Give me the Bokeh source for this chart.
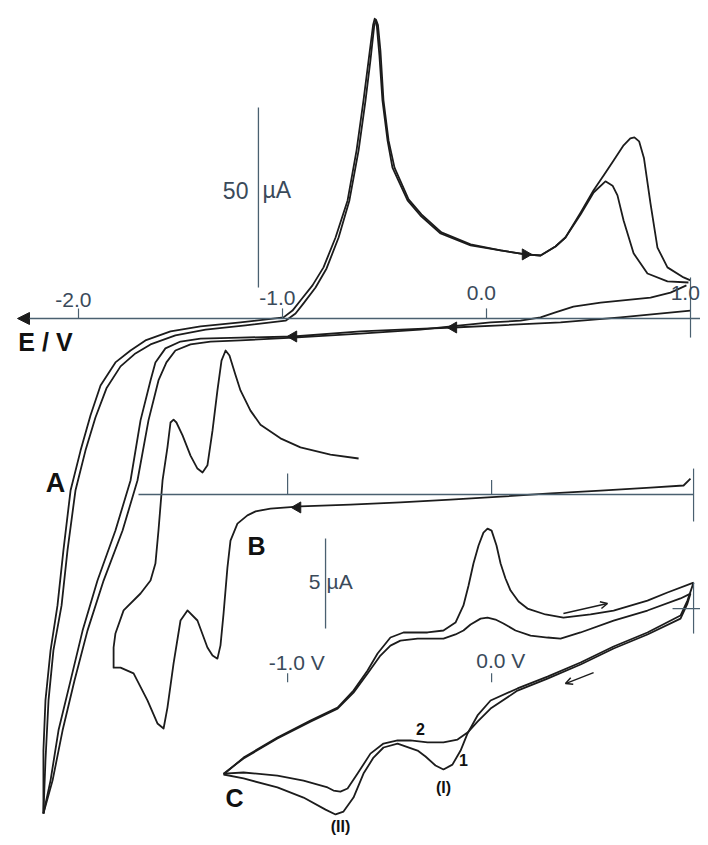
from bokeh.plotting import figure
from bokeh.models import Range1d, Arrow, NormalHead, OpenHead
from bokeh.core.properties import value
from bokeh.embed import file_html
from bokeh.resources import INLINE
import math

# ---------------- data: (potential / V, current / uA) ----------------
# Panel A (two cycles)
A1_cathodic = [(1.000, 2.2), (0.657, 0.3), (0.363, -1.1), (0.069, -1.9), (-0.162, -2.5), (-0.422, -3.1),
               (-0.618, -3.6), (-0.946, -5.0), (-1.206, -5.3), (-1.402, -5.6), (-1.500, -6.4), (-1.574, -8.3),
               (-1.623, -12.2), (-1.647, -17.2), (-1.696, -28.3), (-1.745, -45.0), (-1.819, -58.9),
               (-1.907, -72.8), (-1.980, -86.7), (-2.039, -100.6), (-2.098, -114.4), (-2.137, -128.3),
               (-2.172, -137.5)]
A1_anodic = [(-2.172, -137.5), (-2.172, -120.0), (-2.162, -106.1), (-2.137, -92.2), (-2.103, -79.7),
             (-2.074, -64.4), (-2.039, -47.8), (-1.990, -36.7), (-1.941, -26.9), (-1.892, -18.6),
             (-1.819, -12.2), (-1.745, -8.9), (-1.672, -6.1), (-1.549, -3.6), (-1.402, -2.2), (-1.206, -1.1),
             (-0.995, 0.3), (-0.951, 2.2), (-0.912, 5.0), (-0.853, 9.2), (-0.799, 14.2), (-0.740, 22.5),
             (-0.681, 32.8), (-0.637, 46.7), (-0.603, 60.6), (-0.578, 71.7), (-0.556, 81.5), (-0.548, 83.3),
             (-0.539, 82.2), (-0.525, 73.1), (-0.510, 60.6), (-0.485, 49.4), (-0.461, 41.9), (-0.387, 32.8),
             (-0.324, 28.6), (-0.225, 23.6), (-0.078, 20.3), (0.069, 18.9), (0.191, 17.8), (0.265, 17.5),
             (0.338, 20.0), (0.387, 22.5), (0.461, 28.9), (0.525, 35.0), (0.583, 38.1), (0.618, 36.9),
             (0.642, 34.2), (0.672, 27.2), (0.721, 18.1), (0.789, 12.5), (0.887, 10.3), (0.990, 10.0)]
A2_cathodic = [(0.980, 9.2), (0.902, 7.2), (0.804, 5.8), (0.559, 4.4), (0.426, 3.3), (0.338, 1.7), (0.265, 0.3),
               (0.167, -0.6), (0.020, -1.1), (-0.127, -1.9), (-0.324, -3.1), (-0.618, -4.2), (-0.946, -5.3),
               (-1.206, -6.1), (-1.353, -6.4), (-1.451, -7.2), (-1.525, -8.9), (-1.569, -12.2),
               (-1.608, -17.2), (-1.657, -28.3), (-1.711, -45.0), (-1.784, -58.9), (-1.877, -72.8),
               (-1.956, -86.7), (-2.020, -100.6), (-2.078, -114.4), (-2.127, -128.3), (-2.172, -137.5)]
A2_anodic = [(-2.172, -137.5), (-2.162, -122.8), (-2.147, -106.1), (-2.123, -92.2), (-2.083, -79.7),
             (-2.054, -64.4), (-2.015, -47.8), (-1.966, -36.7), (-1.917, -27.5), (-1.863, -19.4),
             (-1.794, -13.3), (-1.721, -9.7), (-1.647, -7.2), (-1.525, -4.7), (-1.377, -3.1), (-1.181, -1.9),
             (-0.985, -0.6), (-0.936, 1.4), (-0.897, 4.2), (-0.838, 8.6), (-0.784, 13.9), (-0.725, 22.5),
             (-0.672, 32.8), (-0.627, 46.7), (-0.593, 60.6), (-0.569, 71.7), (-0.551, 81.0), (-0.542, 83.0),
             (-0.532, 81.5), (-0.520, 74.4), (-0.505, 60.6), (-0.480, 49.4), (-0.451, 41.9), (-0.382, 33.1),
             (-0.319, 28.9), (-0.221, 23.9), (-0.078, 20.6), (0.069, 18.9), (0.191, 17.8), (0.265, 17.5),
             (0.338, 20.0), (0.387, 22.5), (0.461, 29.4), (0.525, 35.6), (0.574, 39.7), (0.623, 43.9),
             (0.672, 48.1), (0.705, 50.0), (0.725, 50.3), (0.748, 49.2), (0.772, 44.5), (0.804, 31.9),
             (0.838, 19.7), (0.887, 14.2), (0.966, 11.4), (1.000, 10.6)]
A_arrows_right = [(0.191, 17.8)]
A_arrows_left = [(-0.946, -5.0), (-0.162, -2.5)]
A_ticks = [-2.0, -1.0, 0.0, 1.0]
A_tick_labels = ["-2.0", "-1.0", "0.0", "1.0"]
A_scale_uA = 50

# Panel B (single cycle)
B_cycle = [(1.000, 4.4), (0.966, 2.5), (0.804, 1.9), (0.559, 1.1), (0.314, 0.3), (0.069, -0.6), (-0.176, -1.4),
           (-0.422, -2.2), (-0.667, -2.8), (-0.912, -3.3), (-1.059, -3.9), (-1.132, -4.7), (-1.172, -5.8),
           (-1.221, -8.1), (-1.255, -12.8), (-1.270, -20.3), (-1.289, -33.1), (-1.304, -41.9), (-1.319, -45.6),
           (-1.343, -44.7), (-1.368, -42.5), (-1.417, -35.0), (-1.466, -32.2), (-1.500, -35.0), (-1.534, -46.9),
           (-1.564, -59.2), (-1.583, -65.0), (-1.613, -63.6), (-1.662, -57.2), (-1.730, -49.7), (-1.794, -48.1),
           (-1.828, -48.1), (-1.828, -42.5), (-1.819, -38.6), (-1.779, -32.2), (-1.696, -27.5), (-1.647, -23.9),
           (-1.623, -19.2), (-1.608, -10.0), (-1.588, 3.9), (-1.564, 13.1), (-1.549, 20.0), (-1.534, 20.8),
           (-1.520, 20.0), (-1.490, 16.4), (-1.451, 10.8), (-1.417, 7.2), (-1.392, 6.1), (-1.368, 8.1),
           (-1.343, 17.8), (-1.319, 28.9), (-1.299, 37.2), (-1.279, 40.0), (-1.260, 38.6), (-1.230, 33.1),
           (-1.206, 28.9), (-1.157, 23.3), (-1.108, 19.4), (-1.010, 15.6), (-0.912, 13.1), (-0.765, 11.1),
           (-0.627, 10.0)]
B_arrows_left = [(-0.926, -3.6)]
B_ticks = [-1.0, 0.0, 1.0]

# Panel C (two cycles)
C1_cathodic = [(1.015, 1.44), (0.985, 0.44), (0.951, -0.39), (0.789, -1.33), (0.623, -2.11), (0.461, -3.00),
               (0.299, -3.78), (0.152, -4.44), (0.020, -5.11), (-0.044, -5.94), (-0.093, -6.94), (-0.127, -7.89),
               (-0.167, -8.67), (-0.211, -8.94), (-0.250, -8.72), (-0.299, -8.22), (-0.338, -7.89),
               (-0.436, -7.50), (-0.505, -7.72), (-0.554, -8.28), (-0.603, -9.17), (-0.652, -10.50),
               (-0.701, -11.28), (-0.740, -11.44), (-0.789, -11.17), (-0.897, -10.50), (-1.025, -9.94),
               (-1.191, -9.44), (-1.289, -9.22)]
C1_anodic = [(-1.289, -9.22), (-1.191, -8.28), (-1.025, -7.17), (-0.863, -6.22), (-0.730, -5.50),
             (-0.652, -4.56), (-0.583, -3.44), (-0.534, -2.50), (-0.471, -1.61), (-0.407, -1.33),
             (-0.289, -1.33), (-0.211, -1.22), (-0.152, -0.78), (-0.113, 0.17), (-0.088, 1.28), (-0.064, 2.50),
             (-0.039, 3.50), (-0.015, 4.22), (0.005, 4.44), (0.025, 4.33), (0.049, 3.50), (0.069, 2.50),
             (0.093, 1.67), (0.118, 1.00), (0.157, 0.39), (0.201, 0.00), (0.289, -0.33), (0.377, -0.50),
             (0.510, -0.33), (0.623, -0.11), (0.789, 0.44), (0.887, 0.89), (1.015, 1.44)]
C2_cathodic = [(1.000, 0.83), (0.985, 0.28), (0.951, -0.56), (0.789, -1.44), (0.623, -2.22), (0.461, -3.11),
               (0.299, -3.89), (0.152, -4.56), (0.020, -5.56), (-0.044, -6.28), (-0.093, -6.89), (-0.142, -7.28),
               (-0.211, -7.44), (-0.289, -7.44), (-0.373, -7.33), (-0.436, -7.33), (-0.505, -7.50),
               (-0.569, -8.06), (-0.632, -9.17), (-0.681, -10.00), (-0.716, -10.17), (-0.750, -10.11),
               (-0.779, -9.94), (-0.897, -9.56), (-1.025, -9.28), (-1.191, -9.11), (-1.289, -9.17)]
C2_anodic = [(-1.289, -9.17), (-1.191, -8.33), (-1.025, -7.22), (-0.863, -6.28), (-0.730, -5.56),
             (-0.652, -4.67), (-0.583, -3.61), (-0.520, -2.61), (-0.471, -2.06), (-0.422, -1.78),
             (-0.338, -1.67), (-0.211, -1.67), (-0.152, -1.44), (-0.113, -1.22), (-0.078, -0.89),
             (-0.029, -0.56), (0.005, -0.50), (0.044, -0.61), (0.083, -0.83), (0.142, -1.22), (0.216, -1.50),
             (0.299, -1.61), (0.363, -1.67), (0.461, -1.33), (0.623, -0.67), (0.789, -0.11), (0.951, 0.56),
             (1.000, 0.83)]
C_arrows = [((0.377, -0.28), (0.593, 0.28)), ((0.525, -3.56), (0.387, -4.17))]
C_ticks = [-1.0, 0.0]
C_tick_labels = ["-1.0 V", "0.0 V"]
C_scale_uA = 5
C_peak_labels = ["(I)", "(II)", "1", "2"]
C_peak_label_pos = [(-0.211, -9.94), (-0.716, -12.1), (-0.113, -8.44), (-0.324, -6.67)]

# ---------------- style ----------------
INK = "#1c1c1c"
AXC = "#4a6070"
TXT = "#3a4a5a"
FONT = value("Liberation Sans")
LW = 1.8
BC_SHIFT = 0.025   # panels B and C are drawn slightly offset to the right

p = figure(width=700, height=837, x_range=Range1d(-2.3824, 1.0490), y_range=Range1d(-144.17, 88.33),
           output_backend="svg", toolbar_location=None, min_border=0,
           x_axis_location=None, y_axis_location=None, outline_line_color=None,
           background_fill_color="white", border_fill_color="white")
p.xgrid.visible = False
p.ygrid.visible = False
p.extra_y_ranges = {"B": Range1d(-95.28, 137.22), "C": Range1d(-12.72, 33.78)}


def xs(c):
    return [v for v, _ in c]


def ys(c):
    return [i for _, i in c]


# ---- Panel A ----
for c in (A1_cathodic, A1_anodic, A2_cathodic, A2_anodic):
    p.line(xs(c), ys(c), line_color=INK, line_width=LW, line_join="round")

p.add_layout(Arrow(end=NormalHead(size=12, fill_color=INK, line_color=INK),
                   x_start=1.09, y_start=0, x_end=-2.299, y_end=0, line_color=AXC, line_width=1.3))
p.segment(x0=A_ticks[:3], y0=[0] * 3, x1=A_ticks[:3], y1=[2.8] * 3, line_color=AXC, line_width=1.2)
p.segment(x0=[A_ticks[3]], y0=[11.4], x1=[A_ticks[3]], y1=[-5.3], line_color=AXC, line_width=1.2)
p.text(x=[t - 0.025 for t in A_ticks[:3]], y=[5.0, 5.8, 7.2], text=A_tick_labels[:3],
       text_font=FONT, text_font_size="21px", text_align="center", text_baseline="middle", text_color=TXT)
p.text(x=[1.046], y=[7.2], text=A_tick_labels[3:],
       text_font=FONT, text_font_size="21px", text_align="right", text_baseline="middle", text_color=TXT)
p.text(x=[-2.162], y=[-6.4], text=["E / V"], text_font=FONT, text_font_size="25px", text_font_style="bold",
       text_align="center", text_baseline="middle", text_color="#111111")
p.text(x=[-2.113], y=[-45.8], text=["A"], text_font=FONT, text_font_size="27px", text_font_style="bold",
       text_align="center", text_baseline="middle", text_color="#111111")

p.scatter(xs(A_arrows_right), ys(A_arrows_right), marker="triangle", size=11, angle=-math.pi / 2,
          fill_color=INK, line_color=INK)
p.scatter(xs(A_arrows_left), ys(A_arrows_left), marker="triangle", size=11, angle=math.pi / 2,
          fill_color=INK, line_color=INK)

# 50 uA scale bar
p.segment(x0=[-1.118], y0=[8.6], x1=[-1.118], y1=[8.6 + A_scale_uA], line_color=AXC, line_width=1.3)
p.text(x=[-1.167], y=[35.6], text=[str(A_scale_uA)], text_font=FONT, text_font_size="23px",
       text_align="right", text_baseline="middle", text_color=TXT)
p.text(x=[-1.098], y=[35.6], text=["µA"], text_font=FONT, text_font_size="23px",
       text_align="left", text_baseline="middle", text_color=TXT)

# ---- Panel B ----
p.line(xs(B_cycle), ys(B_cycle), line_color=INK, line_width=LW, line_join="round", y_range_name="B")
p.segment(x0=[-1.706], y0=[0], x1=[B_ticks[2] + BC_SHIFT - 0.01], y1=[0], line_color=AXC, line_width=1.3,
          y_range_name="B")
p.segment(x0=[t + BC_SHIFT for t in B_ticks[:2]], y0=[0, 0], x1=[t + BC_SHIFT for t in B_ticks[:2]],
          y1=[5.8, 4.0], line_color=AXC, line_width=1.2, y_range_name="B")
p.segment(x0=[B_ticks[2] + BC_SHIFT - 0.01], y0=[7.2], x1=[B_ticks[2] + BC_SHIFT - 0.01], y1=[-7.5],
          line_color=AXC, line_width=1.2, y_range_name="B")
p.scatter(xs(B_arrows_left), ys(B_arrows_left), marker="triangle", size=11, angle=math.pi / 2,
          fill_color=INK, line_color=INK, y_range_name="B")
p.text(x=[-1.127], y=[-14.2], text=["B"], text_font=FONT, text_font_size="25px", text_font_style="bold",
       text_align="center", text_baseline="middle", text_color="#111111", y_range_name="B")

# ---- Panel C ----
for c in (C1_cathodic, C1_anodic, C2_cathodic, C2_anodic):
    p.line(xs(c), ys(c), line_color=INK, line_width=LW, line_join="round", y_range_name="C")
for (s, e) in C_arrows:
    p.add_layout(Arrow(end=OpenHead(size=7, line_color=INK, line_width=1.5),
                       x_start=s[0], y_start=s[1], x_end=e[0], y_end=e[1],
                       line_color=INK, line_width=1.5, y_range_name="C"))
# origin cross at the right end
p.segment(x0=[0.912], y0=[0.0], x1=[1.09], y1=[0.0], line_color=AXC, line_width=1.2, y_range_name="C")
p.segment(x0=[1.0 + BC_SHIFT - 0.01], y0=[1.44], x1=[1.0 + BC_SHIFT - 0.01], y1=[-1.39], line_color=AXC,
          line_width=1.2, y_range_name="C")
p.segment(x0=[t + BC_SHIFT for t in C_ticks], y0=[-3.6] * 2, x1=[t + BC_SHIFT for t in C_ticks],
          y1=[-4.1] * 2, line_color=AXC, line_width=1.2, y_range_name="C")
p.text(x=[t + BC_SHIFT + 0.045 for t in C_ticks], y=[-3.0, -2.9], text=C_tick_labels, text_font=FONT,
       text_font_size="21px", text_align="center", text_baseline="middle", text_color=TXT, y_range_name="C")
# 5 uA scale bar
p.segment(x0=[-0.789], y0=[-1.11], x1=[-0.789], y1=[-1.11 + C_scale_uA], line_color=AXC, line_width=1.3,
          y_range_name="C")
p.text(x=[-0.814], y=[1.5], text=[str(C_scale_uA)], text_font=FONT, text_font_size="21px",
       text_align="right", text_baseline="middle", text_color=TXT, y_range_name="C")
p.text(x=[-0.784], y=[1.5], text=["µA"], text_font=FONT, text_font_size="21px",
       text_align="left", text_baseline="middle", text_color=TXT, y_range_name="C")
p.text(x=[q[0] for q in C_peak_label_pos], y=[q[1] for q in C_peak_label_pos], text=C_peak_labels,
       text_font=FONT, text_font_size="16px", text_font_style="bold", text_align="center",
       text_baseline="middle", text_color="#111111", y_range_name="C")
p.text(x=[-1.235], y=[-10.5], text=["C"], text_font=FONT, text_font_size="25px", text_font_style="bold",
       text_align="center", text_baseline="middle", text_color="#111111", y_range_name="C")

open("out.html", "w").write(file_html(p, INLINE))
